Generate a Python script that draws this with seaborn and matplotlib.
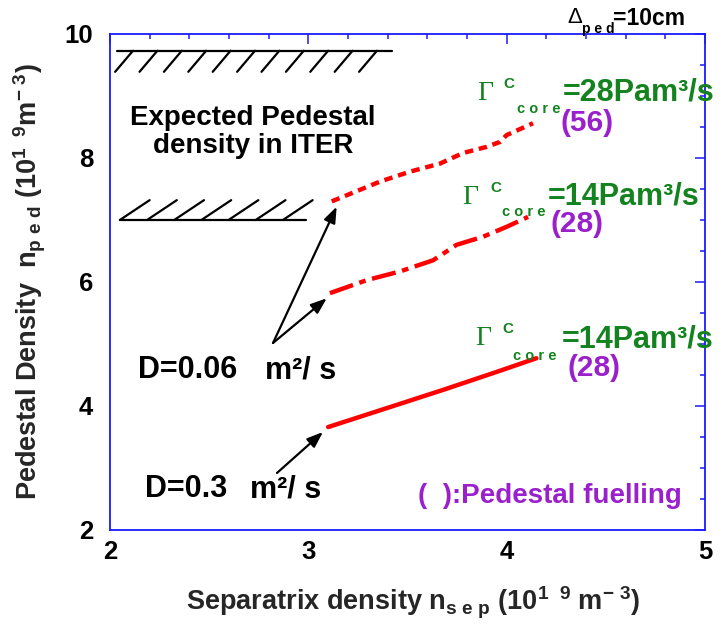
import numpy as np
import pandas as pd
import matplotlib
matplotlib.use("Agg")
import matplotlib.pyplot as plt
import seaborn as sns
from matplotlib.ticker import MultipleLocator

# ---------------- data ----------------
# D = 0.06 m^2/s, Gamma_core = 28 Pa m^3/s  (dotted)
x_d006_g28 = [3.118, 3.362, 3.513, 3.664, 3.780, 3.900, 3.967, 4.000, 4.133]
y_d006_g28 = [7.30, 7.62, 7.78, 7.91, 8.08, 8.18, 8.26, 8.37, 8.56]
# D = 0.06 m^2/s, Gamma_core = 14 Pa m^3/s  (dash-dot)
x_d006_g14 = [3.109, 3.295, 3.462, 3.629, 3.748, 3.881, 4.000, 4.108]
y_d006_g14 = [5.82, 6.03, 6.17, 6.35, 6.60, 6.73, 6.89, 7.05]
# D = 0.3 m^2/s, Gamma_core = 14 Pa m^3/s  (solid)
x_d03_g14 = [3.10, 3.40, 3.68, 3.95, 4.15]
y_d03_g14 = [3.66, 3.97, 4.26, 4.55, 4.77]

# expected ITER pedestal density band
iter_upper = 9.73
iter_lower = 7.0

xticks = [2, 3, 4, 5]
yticks = [2, 4, 6, 8, 10]

RED = "#ff0000"
GREEN = "#13821f"
PURPLE = "#9a20cc"
BLUE = "#1a1aff"

sns.set_style("white")
plt.rcParams["font.family"] = ["Liberation Sans", "DejaVu Sans"]
plt.rcParams["font.weight"] = "bold"
plt.rcParams["mathtext.fontset"] = "custom"
plt.rcParams["mathtext.rm"] = "Liberation Sans:bold"
plt.rcParams["mathtext.it"] = "Liberation Sans:bold"
plt.rcParams["mathtext.bf"] = "Liberation Sans:bold"

fig = plt.figure(figsize=(7.23, 6.26), dpi=100)
ax = fig.add_axes([0.1521, 0.1534, 0.823, 0.7923])

df1 = pd.DataFrame({"x": x_d006_g28, "y": y_d006_g28})
df2 = pd.DataFrame({"x": x_d006_g14, "y": y_d006_g14})
df3 = pd.DataFrame({"x": x_d03_g14, "y": y_d03_g14})
sns.lineplot(data=df1, x="x", y="y", ax=ax, color=RED, lw=3.2, estimator=None,
             linestyle=(0, (1.9, 1.3)))
sns.lineplot(data=df2, x="x", y="y", ax=ax, color=RED, lw=3.2, estimator=None,
             linestyle=(0, (5.5, 1.5, 1.5, 1.5)))
sns.lineplot(data=df3, x="x", y="y", ax=ax, color=RED, lw=3.2, estimator=None,
             linestyle="-")

# hatched band boundaries
ax.plot([2.034, 3.42], [iter_upper, iter_upper], color="black", lw=1.6)
for xt in np.arange(2.116, 3.40, 0.123):
    ax.plot([xt, xt - 0.09], [iter_upper, iter_upper - 0.34], color="black", lw=1.6)
ax.plot([2.05, 2.99], [iter_lower, iter_lower], color="black", lw=1.6)
for xb in np.arange(2.05, 2.90, 0.137):
    ax.plot([xb, xb + 0.15], [iter_lower, iter_lower + 0.32], color="black", lw=1.6)

ax.set_xlim(2, 5)
ax.set_ylim(2, 10)
ax.set_xticks(xticks)
ax.set_yticks(yticks)
ax.xaxis.set_minor_locator(MultipleLocator(0.2))
ax.yaxis.set_minor_locator(MultipleLocator(0.5))
ax.tick_params(which="both", direction="in", top=True, right=True, color=BLUE,
               width=1.1, labelsize=18.5, labelcolor="black")
ax.tick_params(which="major", length=7)
ax.tick_params(which="minor", length=3.5)
ax.tick_params(axis="x", pad=7)
ax.tick_params(axis="y", pad=12)
for s in ax.spines.values():
    s.set_color(BLUE)
    s.set_linewidth(1.3)

ax.set_xlabel(r"Separatrix density n$_{\mathrm{s\ e\ p}}$ (10$^{\mathrm{1\ \ 9}}$ m$^{\mathrm{-\ 3}}$)",
              fontsize=19.5, fontweight="bold")
ax.xaxis.set_label_coords(0.51, -0.111)
ax.set_ylabel(r"Pedestal Density  n$_{\mathrm{p\ e\ d}}$ (10$^{\mathrm{1\ \ 9}}$m$^{\mathrm{-\ 3}}$)",
              fontsize=19.5, fontweight="bold")
ax.yaxis.set_label_coords(-0.104, 0.5)


def txt(x, y, s, size, color="black", family="Liberation Sans", weight="bold", ha="left"):
    ax.text(x, y, s, fontsize=size, color=color, family=family, fontweight=weight,
            ha=ha, va="baseline", clip_on=False)


def gamma_label(xg, yg, xc, yc, xcore, ycore, xeq, yeq, eq, xp, yp, par):
    txt(xg, yg, "\u0393", 20, GREEN, family="Liberation Serif", weight="normal")
    txt(xc, yc, "C", 11, GREEN)
    txt(xcore, ycore, "c o r e", 10.5, GREEN)
    txt(xeq, yeq, eq, 22, GREEN)
    txt(xp, yp, par, 21.5, PURPLE)


gamma_label(3.851, 8.935, 3.982, 9.13, 4.052, 8.73, 4.284, 8.935, "=28Pam\u00b3/s", 4.269, 8.43, "(56)")
gamma_label(3.775, 7.25, 3.916, 7.45, 3.977, 7.06, 4.209, 7.25, "=14Pam\u00b3/s", 4.222, 6.80, "(28)")
gamma_label(3.841, 4.98, 3.977, 5.18, 4.032, 4.74, 4.279, 4.95, "=14Pam\u00b3/s", 4.305, 4.48, "(28)")

txt(2.721, 8.53, "Expected Pedestal", 20, ha="center")
txt(2.721, 8.08, "density in ITER", 20, ha="center")

txt(2.141, 4.45, "D=0.06", 22)
txt(2.782, 4.45, "m\u00b2/ s", 22)
txt(2.176, 2.53, "D=0.3", 22)
txt(2.706, 2.53, "m\u00b2/ s", 22)

txt(3.551, 2.435, "(  ):Pedestal fuelling", 20, PURPLE)

txt(4.305, 10.18, "\u0394", 16, weight="normal")
txt(4.380, 10.02, "p e d", 10)
txt(4.537, 10.15, "=10cm", 16.5)

arrow_kw = dict(arrowstyle="-|>,head_length=0.8,head_width=0.3", lw=1.6, color="black",
                shrinkA=0, shrinkB=0, mutation_scale=12)
ax.annotate("", xy=(3.143, 7.215), xytext=(2.822, 5.016), arrowprops=arrow_kw)
ax.annotate("", xy=(3.093, 5.737), xytext=(2.822, 5.016), arrowprops=arrow_kw)
ax.annotate("", xy=(3.074, 3.58), xytext=(2.842, 2.919), arrowprops=arrow_kw)

fig.savefig("out.png", dpi=100)
